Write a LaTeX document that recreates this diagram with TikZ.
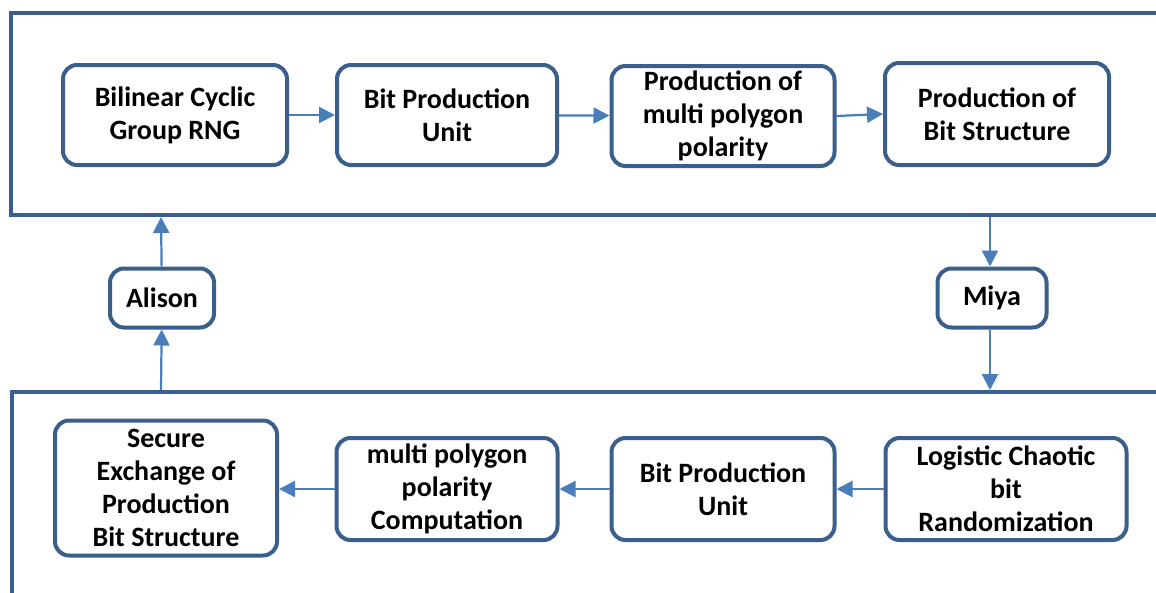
\documentclass[tikz,border=0pt]{standalone}
\usepackage{fontspec}
\setmainfont{Carlito}
\usetikzlibrary{arrows.meta}
\definecolor{boxblue}{RGB}{58,95,140}
\definecolor{arrowblue}{RGB}{74,126,187}
\tikzset{
  blk/.style={draw=boxblue, line width=4pt, rounded corners=14pt, fill=white,
    align=center, inner sep=0pt, font=\fontsize{28}{33}\selectfont\bfseries},
  frame/.style={draw=boxblue, line width=4pt},
  conn/.style={draw=arrowblue, line width=2.2pt, -{Triangle[length=16pt,width=16pt]}}
}
\begin{document}
\begin{tikzpicture}[x=1pt,y=-1pt]
\useasboundingbox (0,0) rectangle (1156,592);
\clip (0,0) rectangle (1156,592);
\fill[white] (0,0) rectangle (1156,592);
% frames
\draw[frame] (1170,13) -- (11,13) -- (11,215) -- (1170,215);
\draw[frame] (1170,392) -- (12,392) -- (12,610);
% top row
\node[blk, minimum width=224pt, minimum height=100pt] (a1) at (175,115) {Bilinear Cyclic\\Group RNG};
\node[blk, minimum width=220pt, minimum height=100pt] (a2) at (447,115) {Bit Production\\Unit};
\node[blk, minimum width=223pt, minimum height=100pt] (a3) at (723,116) {Production of\\multi polygon\\polarity};
\node[blk, minimum width=224pt, minimum height=102pt] (a4) at (997,114) {Production of\\Bit Structure};
% middle
\node[blk, minimum width=104pt, minimum height=59pt] (al) at (162,298) {Alison};
\node[blk, minimum width=109pt, minimum height=59pt] (mi) at (992,298) {Miya};
% bottom row
\node[blk, minimum width=222pt, minimum height=135pt] (b1) at (166,488) {Secure\\Exchange of\\Production\\Bit Structure};
\node[blk, minimum width=221pt, minimum height=102pt] (b2) at (447,489) {multi polygon\\polarity\\Computation};
\node[blk, minimum width=223pt, minimum height=102pt] (b3) at (723,489) {Bit Production\\Unit};
\node[blk, minimum width=241pt, minimum height=102pt] (b4) at (1006,489) {Logistic Chaotic\\bit\\Randomization};
% frame coordinates
\coordinate (ftl) at (161,217);
\coordinate (fbl) at (161,390);
\coordinate (ftr) at (990,217);
\coordinate (fbr) at (990,390);
% connectors
\draw[conn] (a1) -- (a2);
\draw[conn] (a2) -- (a3);
\draw[conn] (a3.east) -- (a4.west);
\draw[conn] (fbl) -- (al);
\draw[conn] (al) -- (ftl);
\draw[conn] (ftr) -- (ftr |- mi.north);
\draw[conn] (mi.south -| fbr) -- (fbr);
\draw[conn] (b4) -- (b3);
\draw[conn] (b3) -- (b2);
\draw[conn] (b2.west) -- (b1.east |- b2.west);
\end{tikzpicture}
\end{document}
